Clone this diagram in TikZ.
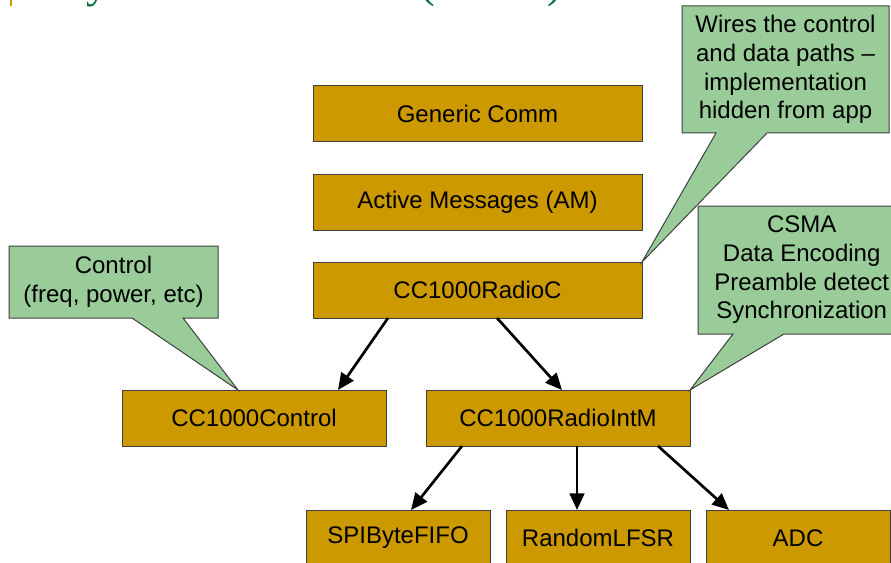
\documentclass[tikz,border=0pt]{standalone}
\usepackage{fontspec}
\setmainfont{Liberation Sans}
\newfontfamily\titlefont{Liberation Serif}
\usetikzlibrary{arrows.meta}
\definecolor{boxfill}{RGB}{204,153,0}
\definecolor{callfill}{RGB}{153,204,153}
\definecolor{edgecol}{RGB}{64,64,64}
\definecolor{titlegreen}{RGB}{0,110,60}
\begin{document}
\begin{tikzpicture}[x=0.75pt,y=-0.75pt,
  box/.style={draw=edgecol, line width=0.75pt, fill=boxfill, inner sep=0pt, outer sep=0pt,
    minimum height=42pt, font=\fontsize{18}{21.5}\selectfont},
  callbox/.style={inner sep=0pt, outer sep=0pt, align=center, font=\fontsize{18}{21.5}\selectfont},
  callshape/.style={draw=edgecol, line width=0.75pt, fill=callfill, line join=miter},
  arr/.style={line width=2pt, -{Triangle[length=12.5pt,width=11pt]}}]
\useasboundingbox (0,0) rectangle (891,563);
\clip (0,0) rectangle (891,563);
\fill[white] (0,0) rectangle (891,563);

% title (cut off at top)
\fill[boxfill] (9.5,-10) rectangle (11.5,6);
\node[anchor=base west, inner sep=0pt, text=titlegreen, font=\titlefont\fontsize{33}{36}\selectfont] (title) at (40,-2) {Layered Radio Stack (Mica2)};

% boxes
\node[box, minimum width=246.75pt] (gc) at (477.5,114) {Generic Comm};
\node[box, minimum width=246.75pt] (am) at (477.5,202) {Active Messages (AM)};
\node[box, minimum width=246.75pt] (rc) at (477.5,290) {CC1000RadioC};
\node[box, minimum width=198pt] (ctl) at (254,418) {CC1000Control};
\node[box, minimum width=198pt] (rim) at (558,418) {CC1000RadioIntM};
\node[box, minimum width=138pt] (spi) at (398,538) {SPIByteFIFO};
\node[box, minimum width=138pt] (lfsr) at (598,538) {RandomLFSR};
\node[box, minimum width=138pt] (adc) at (798,538) {ADC};

% arrows
\draw[arr] ([xshift=56.25pt]rc.south west) -- ([xshift=162pt]ctl.north west);
\draw[arr] ([xshift=138pt]rc.south west) -- ([xshift=102pt]rim.north west);
\draw[arr] ([xshift=27pt]rim.south west) -- ([xshift=78.75pt]spi.north west);
\draw[arr] ([xshift=113.25pt]rim.south west) -- ([xshift=53.25pt]lfsr.north west);
\draw[arr] ([xshift=174pt]rim.south west) -- ([xshift=17.25pt]adc.north west);

% callout: control
\coordinate (c1) at (9,246);
\coordinate (c2) at (218,318);
\coordinate (ctip) at ([xshift=87pt]ctl.north west);
\draw[callshape] (c1) -- (c1 -| c2) -- (c2) -- (183,318) -- (ctip) -- (132,318) -- (c1 |- c2) -- cycle;
\node[callbox] (ctext) at (113.5,282) {Control\\(freq, power, etc)};

% callout: wires
\coordinate (w1) at (682,6);
\coordinate (w2) at (889,133);
\draw[callshape] (w1) -- (w1 -| w2) -- (w2) -- (767,133) -- (rc.north east) -- (716,133) -- (w1 |- w2) -- cycle;
\node[callbox] (wtext) at (785.5,69.5) {Wires the control\\and data paths –\\implementation\\hidden from app};

% callout: CSMA
\coordinate (s1) at (698,206);
\coordinate (s2) at (905,334);
\draw[callshape] (s1) -- (s1 -| s2) -- (s2) -- (784,334) -- (rim.north east) -- (733,334) -- (s1 |- s2) -- cycle;
\node[callbox] (stext) at (801.7,270) {CSMA\\Data Encoding\\Preamble detect\\Synchronization};
\end{tikzpicture}
\end{document}
